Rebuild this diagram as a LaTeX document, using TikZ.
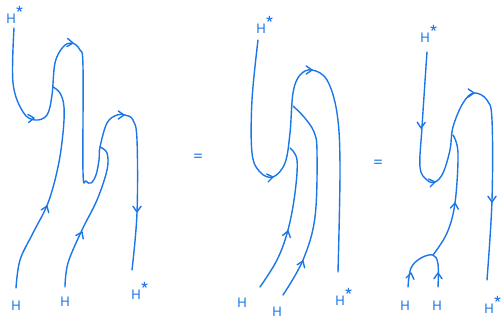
\documentclass[tikz,border=0pt]{standalone}
\usepackage{fontspec}
\setmainfont{TeX Gyre Heros}
\usetikzlibrary{calc}
\definecolor{ink}{RGB}{28,118,232}
\tikzset{
  strand/.style={draw=ink,line width=1.4pt,line cap=round,line join=round},
  lab/.style={text=ink,font=\fontsize{13}{13}\selectfont,inner sep=1pt},
  eqsign/.style={text=ink,font=\fontsize{17}{17}\selectfont,inner sep=1pt},
}
\newcommand\chev[3]{\draw[strand] (#1,#2) ++({#3+145}:7) -- (#1,#2) -- ++({#3-145}:7);}
\newcommand\Hst{H\raisebox{0.12em}{\scalebox{1.6}{*}}}
\begin{document}
\begin{tikzpicture}[x=1pt,y=-1pt]
\useasboundingbox (0,0) rectangle (504,321);
% ---------- panel 1 ----------
\node[lab] (p1a) at (15,15) {\Hst};
\node[lab] (p1b) at (16,306) {H};
\node[lab] (p1c) at (65,302) {H};
\node[lab] (p1d) at (140,291) {\Hst};
\coordinate (j11) at (53,87);
\coordinate (j12) at (100,147);
\draw[strand] plot[smooth,tension=0.6] coordinates {(14,28) (13,83) (23,112) (35,120) (47,115) (52,95) (55,63) (63,47) (72,43) (80,50) (83,67) (83,172) (86,181) (91,183) (96,175) (99,160) (100,147) (107,123) (117,115) (125,115) (133,120) (137,140) (137,213) (132,270)};
\draw[strand] plot[smooth,tension=0.6] coordinates {(16,288) (20,260) (33,233) (48,203) (58,167) (63,133) (64,107) (60,93) (j11)};
\draw[strand] plot[smooth,tension=0.6] coordinates {(65,287) (68,263) (82,230) (97,200) (107,170) (107,153) (j12)};
\chev{34}{118}{-5}
\chev{73}{43}{5}
\chev{124}{115}{0}
\chev{137}{212}{90}
\chev{47}{206}{-69}
\chev{82}{232}{-65}
% ---------- = ----------
\node[eqsign] (eq1) at (198,157) {=};
\node[eqsign] (eq2) at (378,163) {=};
% ---------- panel 2 ----------
\node[lab] (p2a) at (265,25) {\Hst};
\node[lab] (p2b) at (242,303) {H};
\node[lab] (p2c) at (277,312) {H};
\node[lab] (p2d) at (344,297) {\Hst};
\coordinate (j21) at (290,148);
\coordinate (j22) at (293,106);
\draw[strand] plot[smooth,tension=0.6] coordinates {(258,40) (252,100) (252,153) (260,172) (273,177) (285,163) (290,133) (293,93) (300,75) (312,70) (327,80) (337,113) (340,167) (338,272)};
\draw[strand] plot[smooth,tension=0.6] coordinates {(260,287) (277,260) (288,230) (295,193) (297,160) (j21)};
\draw[strand] plot[smooth,tension=0.6] coordinates {(283,295) (303,260) (315,217) (317,152) (314,132) (304,117) (j22)};
\chev{273}{177}{-10}
\chev{312}{70}{0}
\chev{288}{231}{-75}
\chev{303}{261}{-68}
% ---------- panel 3 ----------
\node[lab] (p3a) at (429,34) {\Hst};
\node[lab] (p3b) at (405,306) {H};
\node[lab] (p3c) at (437,306) {H};
\node[lab] (p3d) at (493,305) {\Hst};
\coordinate (j31) at (453,135);
\coordinate (j32) at (433,255);
\draw[strand] plot[smooth,tension=0.6] coordinates {(427,52) (422,127) (420,167) (427,180) (435,182) (443,173) (450,150) (453,127) (463,103) (474,93) (487,100) (492,120) (492,200) (487,280)};
\draw[strand] plot[smooth,tension=0.6] coordinates {(j31) (458,153) (455,203) (447,233) (j32)};
\draw[strand] plot[smooth,tension=0.6] coordinates {(408,287) (411,268) (421,258) (j32) (438,264) (438,287)};
\chev{421}{128}{92}
\chev{435}{182}{-10}
\chev{474}{93}{0}
\chev{492}{202}{90}
\chev{455}{203}{-83}
\chev{411}{273}{-80}
\chev{438}{273}{-90}
\end{tikzpicture}
\end{document}
